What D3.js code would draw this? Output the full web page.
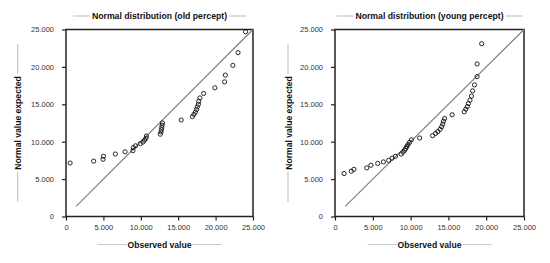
<!DOCTYPE html>
<html><head><meta charset="utf-8">
<script src="https://cdn.jsdelivr.net/npm/d3@7"></script>
<style>
html,body{margin:0;padding:0;background:#fff;}
svg{display:block;font-family:"Liberation Sans",Arial,sans-serif;}
</style></head>
<body><svg id="chart" width="550" height="263"></svg>
<script>
// ---- data ----
const titles = ["Normal distribution (old percept)", "Normal distribution (young percept)"];
const xLabel = "Observed value";
const yLabel = "Normal value expected";
const tickValues = [0, 5000, 10000, 15000, 20000, 25000];
const refLine = [1350, 25000];

const oldObserved = [550,3700,4950,5000,6600,7900,8950,9000,9300,9950,10300,10500,10700,10750,12600,12700,12750,12800,12850,12900,15400,16900,17100,17300,17450,17550,17700,17750,17900,18400,19900,21200,21300,22300,23000,24000];
const oldExpected = [7150,7400,7650,8050,8350,8650,8800,9200,9450,9750,9950,10200,10450,10750,11000,11300,11600,11900,12200,12500,12900,13350,13650,13950,14300,14650,15000,15400,15850,16450,17200,18000,18900,20200,21900,24700];

const youngObserved = [1200,2150,2500,4200,4750,5650,6400,7100,7550,8000,8750,9000,9200,9350,9500,9650,9850,10100,11200,12900,13300,13600,13900,14100,14250,14350,14500,15500,17100,17300,17500,17650,17850,18050,18200,18450,18800,18800,19400];
const youngExpected = [5750,6050,6300,6500,6850,7100,7300,7500,7800,8050,8350,8600,8850,9100,9350,9600,9900,10250,10500,10800,11100,11350,11650,12000,12350,12750,13100,13600,14000,14350,14700,15100,15550,16100,16800,17600,18700,20400,23100];

// ---- drawing ----
const svg = d3.select("#chart");
const loc = d3.formatLocale({decimal:",", thousands:".", grouping:[3], currency:["",""]});
const fmt = loc.format(",");

const panels = [
  {title: titles[0], obs: oldObserved, exp: oldExpected, x0: 66, x1: 253, ylab: 17.7},
  {title: titles[1], obs: youngObserved, exp: youngExpected, x0: 335, x1: 524, ylab: 288}
];
const yTop = 29.5, yBot = 216.5;

panels.forEach(p => {
  const x = d3.scaleLinear().domain([0,25000]).range([p.x0, p.x1]);
  const y = d3.scaleLinear().domain([0,25000]).range([yBot, yTop]);
  const g = svg.append("g");

  // axes
  const xa = g.append("g").attr("transform", `translate(0,${yBot})`)
    .call(d3.axisBottom(x).tickValues(tickValues).tickFormat(fmt).tickSize(4).tickPadding(4));
  const ya = g.append("g").attr("transform", `translate(${p.x0},0)`)
    .call(d3.axisLeft(y).tickValues(tickValues).tickFormat(fmt).tickSize(4).tickPadding(8));
  [xa, ya].forEach(a => {
    a.select(".domain").remove();
    a.selectAll("line").attr("stroke", "#222").attr("stroke-width", 1.2);
    a.selectAll("text").attr("font-size", 7.5).attr("fill", "#333")
      .attr("font-family", "'Liberation Sans',Arial,sans-serif");
  });

  // frame
  g.append("rect").attr("x", p.x0).attr("y", yTop)
    .attr("width", p.x1 - p.x0).attr("height", yBot - yTop)
    .attr("fill", "none").attr("stroke", "#222").attr("stroke-width", 1.5);

  // reference line
  g.append("line")
    .attr("x1", x(refLine[0])).attr("y1", y(refLine[0]))
    .attr("x2", x(refLine[1])).attr("y2", y(refLine[1]))
    .attr("stroke", "#808080").attr("stroke-width", 1.2);

  // points
  g.selectAll("circle.pt").data(p.obs.map((v,i) => [v, p.exp[i]])).enter()
    .append("circle").attr("class","pt")
    .attr("cx", d => x(d[0])).attr("cy", d => y(d[1]))
    .attr("r", 2.1).attr("fill", "none").attr("stroke", "#111").attr("stroke-width", 0.9);

  const cx = (p.x0 + p.x1) / 2;
  // title
  const t = g.append("text").attr("x", cx).attr("y", 19).attr("text-anchor", "middle")
    .attr("font-size", 8.7).attr("font-weight", "bold").attr("fill", "#111").text(p.title);
  const tw = t.node().getComputedTextLength();
  g.append("line").attr("x1", cx - tw/2 - 19).attr("x2", cx - tw/2 - 2).attr("y1", 16).attr("y2", 16)
    .attr("stroke", "#aaa").attr("stroke-width", 0.8);
  g.append("line").attr("x1", cx + tw/2 + 2).attr("x2", cx + tw/2 + 19).attr("y1", 16).attr("y2", 16)
    .attr("stroke", "#aaa").attr("stroke-width", 0.8);

  // x label
  const xl = g.append("text").attr("x", cx).attr("y", 247.5).attr("text-anchor", "middle")
    .attr("font-size", 8.6).attr("font-weight", "bold").attr("fill", "#111").text(xLabel);
  const xw = xl.node().getComputedTextLength();
  g.append("line").attr("x1", cx - xw/2 - 30).attr("x2", cx - xw/2 - 1).attr("y1", 244.5).attr("y2", 244.5)
    .attr("stroke", "#bbb").attr("stroke-width", 0.8);
  g.append("line").attr("x1", cx + xw/2 + 1).attr("x2", cx + xw/2 + 30).attr("y1", 244.5).attr("y2", 244.5)
    .attr("stroke", "#bbb").attr("stroke-width", 0.8);

  // y label
  const cy = 123;
  const yl = g.append("text").attr("transform", `translate(${p.ylab + 3.5},${cy}) rotate(-90)`)
    .attr("text-anchor", "middle").attr("font-size", 8.6).attr("font-weight", "bold").attr("fill", "#111").text(yLabel);
  const yw = yl.node().getComputedTextLength();
  g.append("line").attr("x1", p.ylab).attr("x2", p.ylab).attr("y1", cy - yw/2 - 32).attr("y2", cy - yw/2 - 2)
    .attr("stroke", "#aaa").attr("stroke-width", 0.8);
  g.append("line").attr("x1", p.ylab).attr("x2", p.ylab).attr("y1", cy + yw/2 + 2).attr("y2", cy + yw/2 + 32)
    .attr("stroke", "#aaa").attr("stroke-width", 0.8);
});
</script></body></html>
